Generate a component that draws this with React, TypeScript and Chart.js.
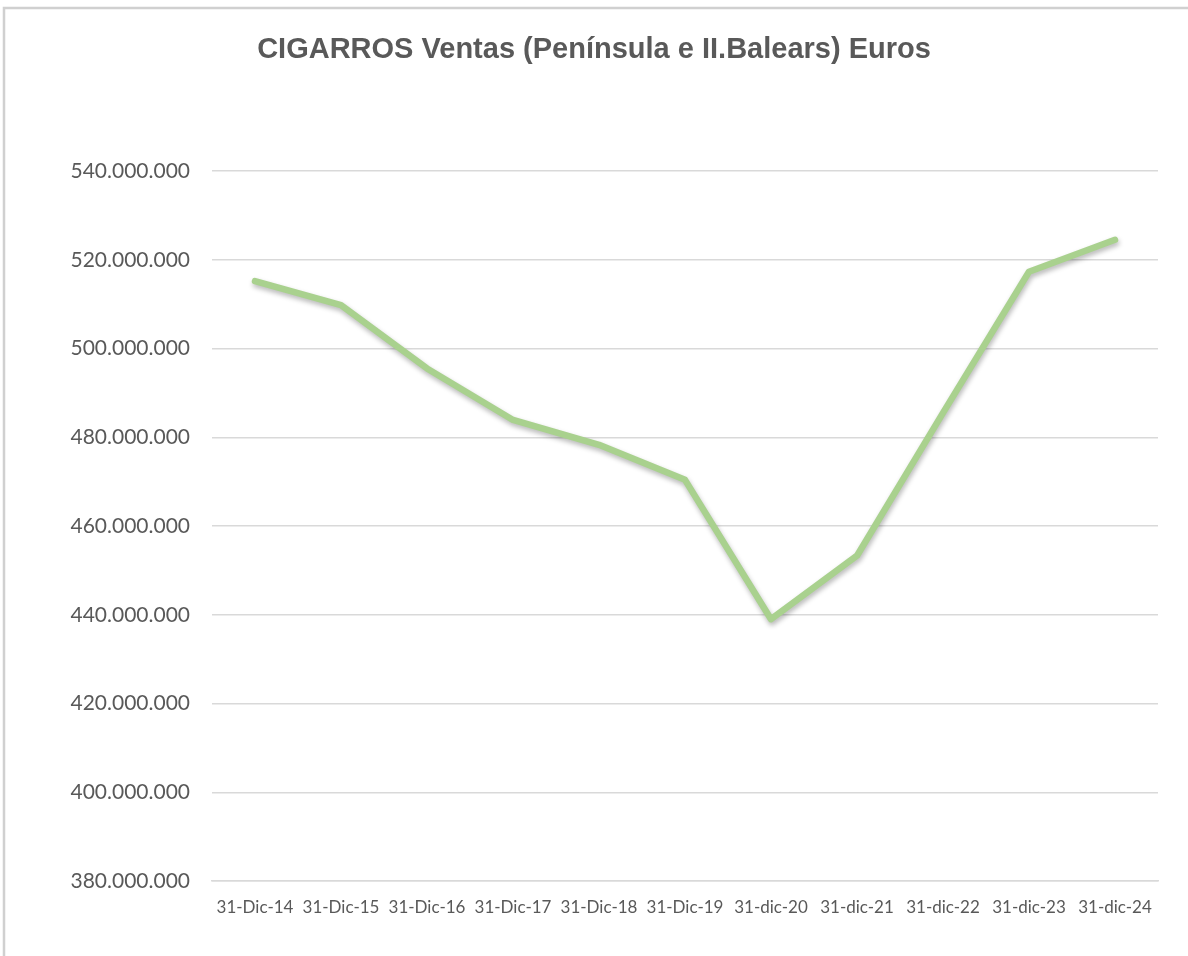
import React, { useEffect, useRef } from "react";
import { Chart, registerables } from "chart.js";

Chart.register(...registerables);

const categories = [
  "31-Dic-14", "31-Dic-15", "31-Dic-16", "31-Dic-17", "31-Dic-18", "31-Dic-19",
  "31-dic-20", "31-dic-21", "31-dic-22", "31-dic-23", "31-dic-24",
];
const ventas = [
  515200000, 509800000, 495500000, 483900000, 478300000, 470400000,
  439000000, 453300000, 485500000, 517300000, 524500000,
];
const yMin = 380000000;
const yMax = 540000000;
const yStep = 20000000;
const titleText = "CIGARROS Ventas (Península e II.Balears) Euros";

const fmt = (v: number) => String(Math.round(v)).replace(/\B(?=(\d{3})+(?!\d))/g, ".");

const shadowPlugin = {
  id: "lineShadow",
  beforeDraw(chart: any) {
    const ctx = chart.ctx;
    ctx.save();
    ctx.fillStyle = "#ffffff";
    ctx.fillRect(0, 0, chart.width, chart.height);
    ctx.strokeStyle = "#D0D0D0";
    ctx.lineWidth = 2.5;
    ctx.beginPath();
    ctx.moveTo(4, chart.height + 2);
    ctx.lineTo(4, 8);
    ctx.lineTo(chart.width + 2, 8);
    ctx.stroke();
    ctx.restore();
  },
  beforeDatasetDraw(chart: any) {
    const ctx = chart.ctx;
    ctx.save();
    ctx.shadowColor = "rgba(0,0,0,0.28)";
    ctx.shadowBlur = 5;
    ctx.shadowOffsetX = 1;
    ctx.shadowOffsetY = 3;
  },
  afterDatasetDraw(chart: any) {
    chart.ctx.restore();
  },
};

export default function App() {
  const ref = useRef<HTMLCanvasElement | null>(null);
  useEffect(() => {
    document.body.style.margin = "0";
    if (!ref.current) return;
    const chart = new Chart(ref.current, {
      type: "line",
      data: {
        labels: categories,
        datasets: [
          {
            data: ventas,
            borderColor: "#A9D18E",
            borderWidth: 6.5,
            borderCapStyle: "round",
            borderJoinStyle: "round",
            pointRadius: 0,
            tension: 0,
            fill: false,
          },
        ],
      },
      plugins: [shadowPlugin],
      options: {
        animation: false,
        responsive: false,
        devicePixelRatio: 1,
        layout: { padding: { left: 30, right: 30, top: 0, bottom: 22.6 } },
        plugins: {
          legend: { display: false },
          tooltip: { enabled: false },
          title: {
            display: true,
            text: titleText,
            color: "#595959",
            font: { family: "'Liberation Sans', Arial, sans-serif", size: 29, weight: "bold" },
            padding: { top: 33, bottom: 103.2 },
          },
        },
        scales: {
          x: {
            offset: true,
            grid: { display: false, drawTicks: false },
            border: { display: true, color: "#D9D9D9", width: 1.5 },
            ticks: {
              color: "#595959",
              font: { family: "Lato, sans-serif", size: 17 },
              padding: 16,
              maxRotation: 0,
              autoSkip: false,
            },
          },
          y: {
            min: yMin,
            max: yMax,
            afterFit: (scale: any) => {
              scale.width = 182;
            },
            grid: { color: "#D9D9D9", lineWidth: 1.5, drawTicks: false },
            border: { display: false },
            ticks: {
              stepSize: yStep,
              color: "#595959",
              font: { family: "Lato, sans-serif", size: 21 },
              padding: 22,
              callback: (v: any) => fmt(Number(v)),
            },
          },
        },
      },
    } as any);
    return () => chart.destroy();
  }, []);

  return (
    <div style={{ position: "relative", width: 1188, height: 956, overflow: "hidden", background: "#fff" }}>
      <canvas ref={ref} width={1188} height={956} style={{ position: "absolute", left: 0, top: 0, display: "block", width: 1188, height: 956 }} />
    </div>
  );
}
